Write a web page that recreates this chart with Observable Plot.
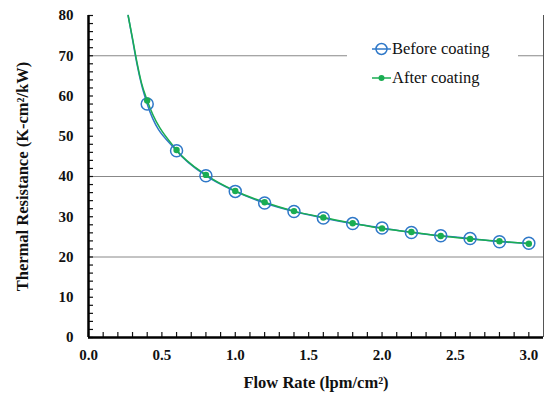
<!DOCTYPE html>
<html><head><meta charset="utf-8">
<script src="https://cdn.jsdelivr.net/npm/d3@7"></script>
<script src="https://cdn.jsdelivr.net/npm/@observablehq/plot@0.6"></script>
<style>
body{margin:0;background:#fff;}
#wrap{position:relative;width:545px;height:400px;font-family:"Liberation Serif",serif;}
#legend{position:absolute;left:347px;top:30px;width:171px;height:62px;background:#fff;font-size:16.5px;color:#111;}
.row{position:absolute;left:25px;height:20px;line-height:20px;white-space:nowrap;}
.row svg{position:absolute;left:0;top:0;}
.row span{position:absolute;left:20px;top:0;}
#chart svg text{font-family:"Liberation Serif",serif !important;}
</style></head><body>
<div id="wrap"><div id="chart"></div>
<div id="legend">
<div class="row" style="top:9px"><svg width="20" height="20"><line x1="0" x2="19" y1="10" y2="10" stroke="#2f78c8" stroke-width="1.5"/><circle cx="9.5" cy="10" r="5.5" fill="none" stroke="#2f78c8" stroke-width="1.5"/></svg><span>Before coating</span></div>
<div class="row" style="top:38px"><svg width="20" height="20"><line x1="0" x2="19" y1="10" y2="10" stroke="#1aad52" stroke-width="1.5"/><circle cx="9.5" cy="10" r="3" fill="#1aad52"/></svg><span>After coating</span></div>
</div></div>
<script>
const flow = [0.4,0.6,0.8,1.0,1.2,1.4,1.6,1.8,2.0,2.2,2.4,2.6,2.8,3.0];
const before = [58.0,46.4,40.2,36.3,33.4,31.3,29.7,28.3,27.2,26.1,25.3,24.6,23.8,23.4];
const after  = [58.9,46.6,40.4,36.4,33.6,31.4,29.8,28.4,27.1,26.2,25.2,24.5,23.9,23.3];
const fitFlow = [0.27,0.30,0.33,0.36];
const fitBefore = [80,74,68,63];
const fitAfter = [80,74.3,68.4,63.4];
const gridVals = [20,40,70];
const xTicks = [0,0.5,1.0,1.5,2.0,2.5,3.0];
const yTicks = [0,10,20,30,40,50,60,70,80];

const pts = flow.map((x,i)=>({x, b:before[i], a:after[i]}));
const lineB = fitFlow.map((x,i)=>({x,y:fitBefore[i]})).concat(flow.map((x,i)=>({x,y:before[i]})));
const lineA = fitFlow.map((x,i)=>({x,y:fitAfter[i]})).concat(flow.map((x,i)=>({x,y:after[i]})));
const blue="#2f78c8", green="#1aad52";
const serif="Liberation Serif, serif";

const chart = Plot.plot({
  width:545, height:400,
  marginLeft:88, marginRight:2, marginTop:15, marginBottom:63,
  style:{fontFamily:serif, fontSize:"15px", fontWeight:"bold", color:"#111", background:"#fff"},
  x:{domain:[0,3.1]},
  y:{domain:[0,80]},
  marks:[
    Plot.ruleY(gridVals,{stroke:"#888",strokeWidth:1}),
    Plot.ruleX([3.1],{stroke:"#555",strokeWidth:1}),
    Plot.axisX(d3.range(0,31).map(d=>d/10),{tickSize:-5,tickFormat:null,text:null,strokeWidth:1.2,label:null}),
    Plot.axisX(xTicks,{tickSize:0,tickPadding:12,tickFormat:d3.format(".1f"),fontFamily:serif,fontSize:15,fontWeight:"bold",label:"Flow Rate (lpm/cm²)",labelAnchor:"center",labelOffset:50,labelArrow:"none"}),
    Plot.axisY(d3.range(0,81,2),{tickSize:-5,text:null,strokeWidth:1.2,label:null}),
    Plot.axisY(yTicks,{tickSize:0,tickPadding:15,fontFamily:serif,fontSize:15,fontWeight:"bold",label:"Thermal Resistance (K-cm²/kW)",labelAnchor:"center",labelOffset:72,labelArrow:"none"}),
    Plot.ruleX([0],{stroke:"#000",strokeWidth:2.5}),
    Plot.ruleY([0],{stroke:"#000",strokeWidth:2.5}),
    Plot.line(lineB,{x:"x",y:"y",curve:"monotone-x",stroke:blue,strokeWidth:1.5}),
    Plot.line(lineA,{x:"x",y:"y",curve:"monotone-x",stroke:green,strokeWidth:1.5}),
    Plot.dot(pts,{x:"x",y:"b",r:6,stroke:blue,strokeWidth:1.5,fill:"none"}),
    Plot.dot(pts,{x:"x",y:"a",r:3.2,fill:green,stroke:null})
  ]
});
chart.querySelectorAll('[aria-label="x-axis label"] text, [aria-label="y-axis label"] text').forEach(t=>{t.style.fontSize="16.5px";});
document.getElementById("chart").appendChild(chart);
</script></body></html>
